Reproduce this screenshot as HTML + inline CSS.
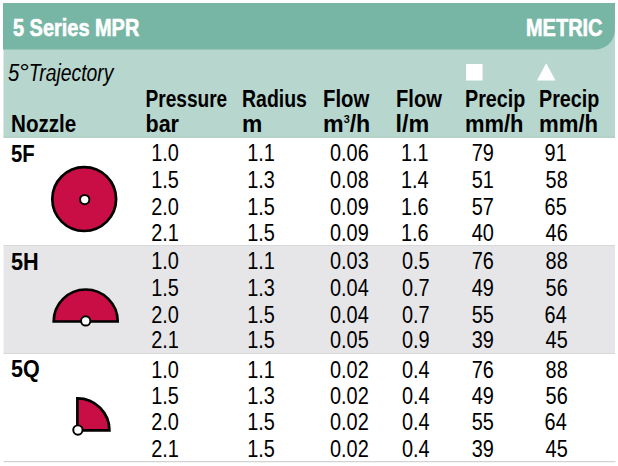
<!DOCTYPE html>
<html><head><meta charset="utf-8"><style>
html,body{margin:0;padding:0;background:#fff;}
body{width:618px;height:466px;overflow:hidden;}
svg{display:block;font-family:"Liberation Sans",sans-serif;}
</style></head><body>
<svg width="618" height="466" viewBox="0 0 618 466">
<rect x="3.5" y="30" width="611.5" height="108" fill="#b7d6ce"/>
<rect x="3.5" y="136.5" width="611.5" height="1" fill="#b3cdc6"/>
<path d="M3 3 H615 V29.5 A20 20 0 0 1 595 49.5 H3 Z" fill="#77b5a5"/>
<rect x="3.5" y="245" width="611.5" height="109" fill="#e6e6e8"/>
<rect x="3.5" y="245" width="611.5" height="1" fill="#d8d8da"/>
<rect x="3.5" y="353" width="611.5" height="1" fill="#d8d8da"/>
<rect x="3.5" y="461" width="612" height="1" fill="#d2d2d2"/>
<rect x="3.5" y="462" width="612" height="1" fill="#f4f4f4"/>
<text x="13.00" y="36" font-size="23.5" font-weight="bold" font-style="normal" fill="#fff" textLength="126.30" lengthAdjust="spacingAndGlyphs" stroke="#fff" stroke-width="0.6">5 Series MPR</text>
<text x="526.00" y="36" font-size="23.5" font-weight="bold" font-style="normal" fill="#fff" textLength="76.50" lengthAdjust="spacingAndGlyphs" stroke="#fff" stroke-width="0.6">METRIC</text>
<text x="8.00" y="80.7" font-size="23.5" font-weight="normal" font-style="italic" fill="#000" textLength="11.30" lengthAdjust="spacingAndGlyphs">5</text>
<text x="18.50" y="79.8" font-size="23.5" font-weight="normal" font-style="italic" fill="#000" textLength="10.30" lengthAdjust="spacingAndGlyphs">°</text>
<text x="28.80" y="80.7" font-size="23.5" font-weight="normal" font-style="italic" fill="#000" textLength="84.70" lengthAdjust="spacingAndGlyphs">Trajectory</text>
<text x="11.00" y="132" font-size="23.5" font-weight="bold" font-style="normal" fill="#000" textLength="65.30" lengthAdjust="spacingAndGlyphs">Nozzle</text>
<text x="145.50" y="107" font-size="23.5" font-weight="bold" font-style="normal" fill="#000" textLength="81.70" lengthAdjust="spacingAndGlyphs">Pressure</text>
<text x="145.50" y="132" font-size="23.5" font-weight="bold" font-style="normal" fill="#000" textLength="33.50" lengthAdjust="spacingAndGlyphs">bar</text>
<text x="242.00" y="107" font-size="23.5" font-weight="bold" font-style="normal" fill="#000" textLength="64.90" lengthAdjust="spacingAndGlyphs">Radius</text>
<text x="242.00" y="132" font-size="23.5" font-weight="bold" font-style="normal" fill="#000" textLength="20.30" lengthAdjust="spacingAndGlyphs">m</text>
<text x="323.00" y="107" font-size="23.5" font-weight="bold" font-style="normal" fill="#000" textLength="46.30" lengthAdjust="spacingAndGlyphs">Flow</text>
<text x="323.00" y="132" font-size="23.5" font-weight="bold" font-style="normal" fill="#000" textLength="47.30" lengthAdjust="spacingAndGlyphs">m<tspan font-size="11" dy="-8.6">3</tspan><tspan dy="8.6">/h</tspan></text>
<text x="396.00" y="107" font-size="23.5" font-weight="bold" font-style="normal" fill="#000" textLength="45.90" lengthAdjust="spacingAndGlyphs">Flow</text>
<text x="395.50" y="132" font-size="23.5" font-weight="bold" font-style="normal" fill="#000" textLength="33.70" lengthAdjust="spacingAndGlyphs">l/m</text>
<text x="465.00" y="107" font-size="23.5" font-weight="bold" font-style="normal" fill="#000" textLength="60.30" lengthAdjust="spacingAndGlyphs">Precip</text>
<text x="465.00" y="132" font-size="23.5" font-weight="bold" font-style="normal" fill="#000" textLength="58.50" lengthAdjust="spacingAndGlyphs">mm/h</text>
<text x="539.00" y="107" font-size="23.5" font-weight="bold" font-style="normal" fill="#000" textLength="60.30" lengthAdjust="spacingAndGlyphs">Precip</text>
<text x="539.00" y="132" font-size="23.5" font-weight="bold" font-style="normal" fill="#000" textLength="59.10" lengthAdjust="spacingAndGlyphs">mm/h</text>
<text x="11.00" y="161.5" font-size="23.5" font-weight="bold" font-style="normal" fill="#000" textLength="23.70" lengthAdjust="spacingAndGlyphs">5F</text>
<text x="11.00" y="269.5" font-size="23.5" font-weight="bold" font-style="normal" fill="#000" textLength="27.70" lengthAdjust="spacingAndGlyphs">5H</text>
<text x="11.00" y="377" font-size="23.5" font-weight="bold" font-style="normal" fill="#000" textLength="28.70" lengthAdjust="spacingAndGlyphs">5Q</text>
<rect x="466" y="64" width="16.5" height="16.5" fill="#fff"/>
<path d="M537 80.5 L555.5 80.5 L546.2 63.2 Z" fill="#fff"/>
<g transform="translate(151.20,160.90) scale(0.866,1)"><text x="0" y="0" font-size="23">1.0</text></g>
<g transform="translate(247.20,160.90) scale(0.866,1)"><text x="0" y="0" font-size="23">1.1</text></g>
<g transform="translate(330.00,160.90) scale(0.866,1)"><text x="0" y="0" font-size="23">0.06</text></g>
<g transform="translate(401.00,160.90) scale(0.866,1)"><text x="0" y="0" font-size="23">1.1</text></g>
<g transform="translate(471.80,160.90) scale(0.866,1)"><text x="0" y="0" font-size="23">79</text></g>
<g transform="translate(544.60,160.90) scale(0.866,1)"><text x="0" y="0" font-size="23">91</text></g>
<g transform="translate(151.20,187.76) scale(0.866,1)"><text x="0" y="0" font-size="23">1.5</text></g>
<g transform="translate(247.20,187.76) scale(0.866,1)"><text x="0" y="0" font-size="23">1.3</text></g>
<g transform="translate(330.00,187.76) scale(0.866,1)"><text x="0" y="0" font-size="23">0.08</text></g>
<g transform="translate(401.00,187.76) scale(0.866,1)"><text x="0" y="0" font-size="23">1.4</text></g>
<g transform="translate(471.80,187.76) scale(0.866,1)"><text x="0" y="0" font-size="23">51</text></g>
<g transform="translate(545.60,187.76) scale(0.866,1)"><text x="0" y="0" font-size="23">58</text></g>
<g transform="translate(151.20,214.94) scale(0.866,1)"><text x="0" y="0" font-size="23">2.0</text></g>
<g transform="translate(247.20,214.94) scale(0.866,1)"><text x="0" y="0" font-size="23">1.5</text></g>
<g transform="translate(330.00,214.94) scale(0.866,1)"><text x="0" y="0" font-size="23">0.09</text></g>
<g transform="translate(401.00,214.94) scale(0.866,1)"><text x="0" y="0" font-size="23">1.6</text></g>
<g transform="translate(471.80,214.94) scale(0.866,1)"><text x="0" y="0" font-size="23">57</text></g>
<g transform="translate(544.60,214.94) scale(0.866,1)"><text x="0" y="0" font-size="23">65</text></g>
<g transform="translate(151.20,240.80) scale(0.866,1)"><text x="0" y="0" font-size="23">2.1</text></g>
<g transform="translate(247.20,240.80) scale(0.866,1)"><text x="0" y="0" font-size="23">1.5</text></g>
<g transform="translate(330.00,240.80) scale(0.866,1)"><text x="0" y="0" font-size="23">0.09</text></g>
<g transform="translate(401.00,240.80) scale(0.866,1)"><text x="0" y="0" font-size="23">1.6</text></g>
<g transform="translate(471.80,240.80) scale(0.866,1)"><text x="0" y="0" font-size="23">40</text></g>
<g transform="translate(545.60,240.80) scale(0.866,1)"><text x="0" y="0" font-size="23">46</text></g>
<g transform="translate(151.20,269.12) scale(0.866,1)"><text x="0" y="0" font-size="23">1.0</text></g>
<g transform="translate(247.20,269.12) scale(0.866,1)"><text x="0" y="0" font-size="23">1.1</text></g>
<g transform="translate(330.00,269.12) scale(0.866,1)"><text x="0" y="0" font-size="23">0.03</text></g>
<g transform="translate(402.00,269.12) scale(0.866,1)"><text x="0" y="0" font-size="23">0.5</text></g>
<g transform="translate(471.80,269.12) scale(0.866,1)"><text x="0" y="0" font-size="23">76</text></g>
<g transform="translate(545.60,269.12) scale(0.866,1)"><text x="0" y="0" font-size="23">88</text></g>
<g transform="translate(151.20,295.86) scale(0.866,1)"><text x="0" y="0" font-size="23">1.5</text></g>
<g transform="translate(247.20,295.86) scale(0.866,1)"><text x="0" y="0" font-size="23">1.3</text></g>
<g transform="translate(330.00,295.86) scale(0.866,1)"><text x="0" y="0" font-size="23">0.04</text></g>
<g transform="translate(402.00,295.86) scale(0.866,1)"><text x="0" y="0" font-size="23">0.7</text></g>
<g transform="translate(471.80,295.86) scale(0.866,1)"><text x="0" y="0" font-size="23">49</text></g>
<g transform="translate(545.60,295.86) scale(0.866,1)"><text x="0" y="0" font-size="23">56</text></g>
<g transform="translate(151.20,322.70) scale(0.866,1)"><text x="0" y="0" font-size="23">2.0</text></g>
<g transform="translate(247.20,322.70) scale(0.866,1)"><text x="0" y="0" font-size="23">1.5</text></g>
<g transform="translate(330.00,322.70) scale(0.866,1)"><text x="0" y="0" font-size="23">0.04</text></g>
<g transform="translate(402.00,322.70) scale(0.866,1)"><text x="0" y="0" font-size="23">0.7</text></g>
<g transform="translate(471.80,322.70) scale(0.866,1)"><text x="0" y="0" font-size="23">55</text></g>
<g transform="translate(544.60,322.70) scale(0.866,1)"><text x="0" y="0" font-size="23">64</text></g>
<g transform="translate(151.20,348.30) scale(0.866,1)"><text x="0" y="0" font-size="23">2.1</text></g>
<g transform="translate(247.20,348.30) scale(0.866,1)"><text x="0" y="0" font-size="23">1.5</text></g>
<g transform="translate(330.00,348.30) scale(0.866,1)"><text x="0" y="0" font-size="23">0.05</text></g>
<g transform="translate(402.00,348.30) scale(0.866,1)"><text x="0" y="0" font-size="23">0.9</text></g>
<g transform="translate(471.80,348.30) scale(0.866,1)"><text x="0" y="0" font-size="23">39</text></g>
<g transform="translate(545.60,348.30) scale(0.866,1)"><text x="0" y="0" font-size="23">45</text></g>
<g transform="translate(151.20,377.72) scale(0.866,1)"><text x="0" y="0" font-size="23">1.0</text></g>
<g transform="translate(247.20,377.72) scale(0.866,1)"><text x="0" y="0" font-size="23">1.1</text></g>
<g transform="translate(330.00,377.72) scale(0.866,1)"><text x="0" y="0" font-size="23">0.02</text></g>
<g transform="translate(402.00,377.72) scale(0.866,1)"><text x="0" y="0" font-size="23">0.4</text></g>
<g transform="translate(471.80,377.72) scale(0.866,1)"><text x="0" y="0" font-size="23">76</text></g>
<g transform="translate(545.60,377.72) scale(0.866,1)"><text x="0" y="0" font-size="23">88</text></g>
<g transform="translate(151.20,403.64) scale(0.866,1)"><text x="0" y="0" font-size="23">1.5</text></g>
<g transform="translate(247.20,403.64) scale(0.866,1)"><text x="0" y="0" font-size="23">1.3</text></g>
<g transform="translate(330.00,403.64) scale(0.866,1)"><text x="0" y="0" font-size="23">0.02</text></g>
<g transform="translate(402.00,403.64) scale(0.866,1)"><text x="0" y="0" font-size="23">0.4</text></g>
<g transform="translate(471.80,403.64) scale(0.866,1)"><text x="0" y="0" font-size="23">49</text></g>
<g transform="translate(545.60,403.64) scale(0.866,1)"><text x="0" y="0" font-size="23">56</text></g>
<g transform="translate(151.20,430.26) scale(0.866,1)"><text x="0" y="0" font-size="23">2.0</text></g>
<g transform="translate(247.20,430.26) scale(0.866,1)"><text x="0" y="0" font-size="23">1.5</text></g>
<g transform="translate(330.00,430.26) scale(0.866,1)"><text x="0" y="0" font-size="23">0.02</text></g>
<g transform="translate(402.00,430.26) scale(0.866,1)"><text x="0" y="0" font-size="23">0.4</text></g>
<g transform="translate(471.80,430.26) scale(0.866,1)"><text x="0" y="0" font-size="23">55</text></g>
<g transform="translate(544.60,430.26) scale(0.866,1)"><text x="0" y="0" font-size="23">64</text></g>
<g transform="translate(151.20,457.14) scale(0.866,1)"><text x="0" y="0" font-size="23">2.1</text></g>
<g transform="translate(247.20,457.14) scale(0.866,1)"><text x="0" y="0" font-size="23">1.5</text></g>
<g transform="translate(330.00,457.14) scale(0.866,1)"><text x="0" y="0" font-size="23">0.02</text></g>
<g transform="translate(402.00,457.14) scale(0.866,1)"><text x="0" y="0" font-size="23">0.4</text></g>
<g transform="translate(471.80,457.14) scale(0.866,1)"><text x="0" y="0" font-size="23">39</text></g>
<g transform="translate(545.60,457.14) scale(0.866,1)"><text x="0" y="0" font-size="23">45</text></g>
<circle cx="84.2" cy="199.1" r="31.9" fill="#c80e45" stroke="#000" stroke-width="2.7"/>
<circle cx="84.7" cy="199.6" r="4.65" fill="#fff" stroke="#000" stroke-width="1.95"/>
<path d="M53.7 321.5 A32 32 0 0 1 117.7 321.5 Z" fill="#c80e45" stroke="#000" stroke-width="2.7" stroke-linejoin="miter"/>
<circle cx="85.7" cy="320.9" r="4.65" fill="#fff" stroke="#000" stroke-width="1.95"/>
<path d="M77.4 430.4 V398.4 A32 32 0 0 1 109.4 430.4 Z" fill="#c80e45" stroke="#000" stroke-width="2.7" stroke-linejoin="miter"/>
<circle cx="77.9" cy="430" r="4.65" fill="#fff" stroke="#000" stroke-width="1.95"/>
</svg>
</body></html>
